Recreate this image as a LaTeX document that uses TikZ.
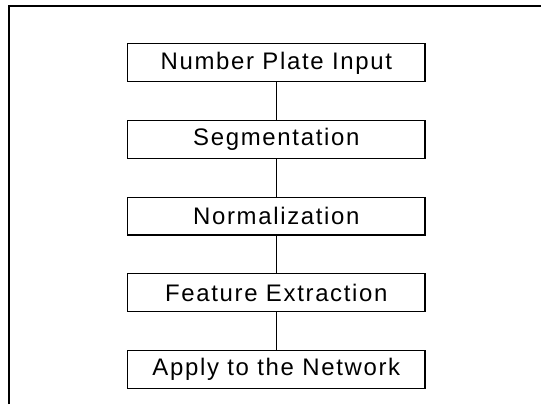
\documentclass[tikz,border=0pt]{standalone}
\usepackage{fontspec}
\setmainfont{Liberation Sans}[LetterSpace=7]
\usepackage{tikz}
\usetikzlibrary{positioning, calc}

\begin{document}
\begin{tikzpicture}[node distance=18.8pt,
    block/.style={rectangle, draw, line width=0.6pt, minimum width=149pt, minimum height=19pt, inner sep=0pt, font=\fontsize{12}{14}\selectfont},
    link/.style={line width=0.6pt}]

    \node (input) [block] {Number Plate Input};
    \node (segment) [block, below=of input] {Segmentation};
    \node (normal) [block, below=of segment] {Normalization};
    \node (feature) [block, below=of normal] {Feature Extraction};
    \node (network) [block, below=of feature] {Apply to the Network};

    \draw [link] (input) -- (segment);
    \draw [link] (segment) -- (normal);
    \draw [link] (normal) -- (feature);
    \draw [link] (feature) -- (network);

    % frame of the figure (cut at right and bottom)
    \coordinate (corner) at ($(input.center)+(-134pt,28.5pt)$);
    \draw [line width=1.3pt] ($(input.center)+(-134pt,-171pt)$) -- (corner) -- ($(input.center)+(132.5pt,28.5pt)$);

    \useasboundingbox ($(input.center)+(-138.5pt,-171pt)$) rectangle ($(input.center)+(132.5pt,31.5pt)$);
\end{tikzpicture}
\end{document}
